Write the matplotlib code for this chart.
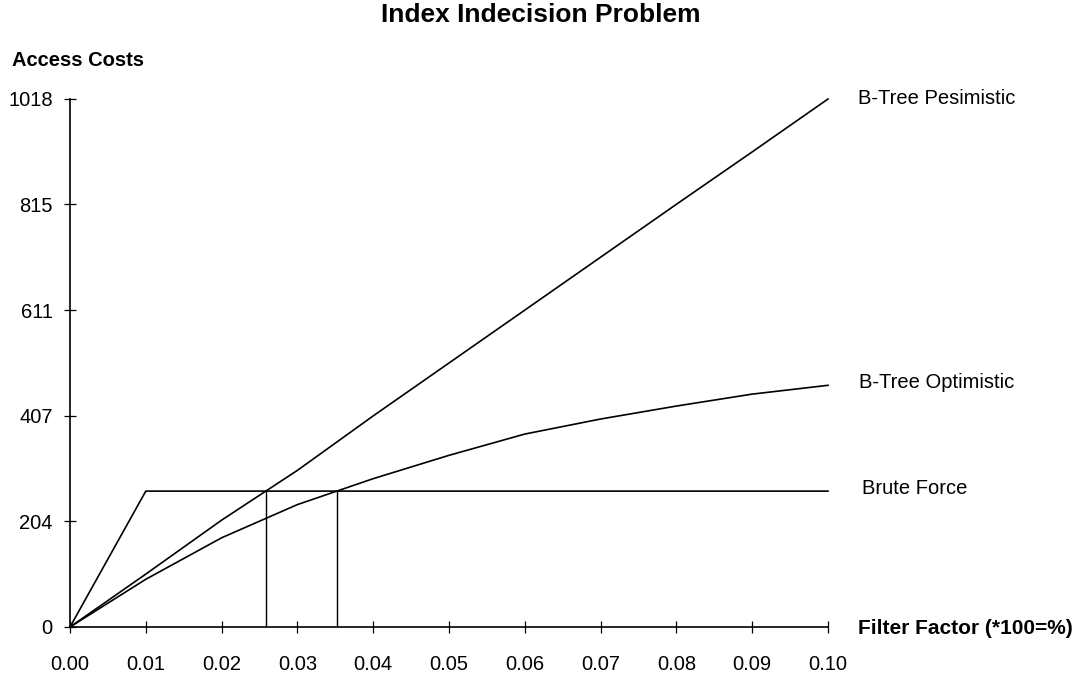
import numpy as np
import matplotlib
matplotlib.use("Agg")
import matplotlib.pyplot as plt

# Filter factor (fraction of rows selected) and access costs for each strategy
filter_factor = [0.00, 0.01, 0.02, 0.03, 0.04, 0.05, 0.06, 0.07, 0.08, 0.09, 0.10]
brute_force = [0, 262, 262, 262, 262, 262, 262, 262, 262, 262, 262]
btree_pessimistic = [0, 102, 206, 302, 407, 509, 611, 713, 815, 916, 1018]
btree_optimistic = [0, 92, 172, 236, 286, 331, 372, 401, 426, 449, 466]

y_ticks = [0, 204, 407, 611, 815, 1018]
x_ticks = [0.00, 0.01, 0.02, 0.03, 0.04, 0.05, 0.06, 0.07, 0.08, 0.09, 0.10]

series_labels = ["B-Tree Pesimistic", "B-Tree Optimistic", "Brute Force"]

plt.rcParams["font.family"] = ["Liberation Sans", "DejaVu Sans"]

fig = plt.figure(figsize=(10.82, 6.80), dpi=100)
ax = fig.add_axes([70 / 1082, 53 / 680, 758 / 1082, 528 / 680])

lw = 1.2
for ys in (brute_force, btree_pessimistic, btree_optimistic):
    ax.plot(filter_factor, ys, color="black", lw=lw, clip_on=False,
            solid_joinstyle="miter")


def break_even(xs, a, b):
    """First x where curve a reaches curve b (linear interpolation)."""
    xs = np.asarray(xs, float)
    d = np.asarray(a, float) - np.asarray(b, float)
    for i in range(1, len(xs)):
        if d[i - 1] < 0 <= d[i]:
            t = -d[i - 1] / (d[i] - d[i - 1])
            return xs[i - 1] + t * (xs[i] - xs[i - 1])
    return None


level = brute_force[-1]
for curve in (btree_pessimistic, btree_optimistic):
    xb = break_even(filter_factor, curve, brute_force)
    ax.plot([xb, xb], [0, level], color="black", lw=lw * 0.85)

ax.set_xlim(0, 0.10)
ax.set_ylim(0, 1018)
ax.set_xticks(x_ticks)
ax.set_xticklabels([f"{v:.2f}" for v in x_ticks])
ax.set_yticks(y_ticks)
ax.set_yticklabels([str(v) for v in y_ticks])

for s in ("top", "right"):
    ax.spines[s].set_visible(False)
for s in ("left", "bottom"):
    ax.spines[s].set_linewidth(1.2)

ax.tick_params(axis="both", direction="inout", length=9, width=0.9,
               labelsize=14.5, colors="black")
ax.tick_params(axis="y", pad=8)
ax.tick_params(axis="x", pad=15.5)

# Series names at the right-hand end of each curve
ends = [btree_pessimistic[-1], btree_optimistic[-1], brute_force[-1]]
offsets = [0, 5, 5]
x_off = [0.0040, 0.0041, 0.0045]
for name, yv, dy, dx in zip(series_labels, ends, offsets, x_off):
    ax.text(0.10 + dx, yv + dy, name, fontsize=14.5, ha="left", va="center",
            clip_on=False)

fig.text(0.5, 1 - 3 / 680, "Index Indecision Problem", ha="center", va="top",
         fontsize=19, fontweight="bold")
fig.text(12 / 1082, 1 - 60 / 680, "Access Costs", ha="left", va="center",
         fontsize=14.5, fontweight="bold")
fig.text(858 / 1082, 1 - 628 / 680, "Filter Factor (*100=%)", ha="left",
         va="center", fontsize=15, fontweight="bold")

fig.savefig("out.png", dpi=100)
